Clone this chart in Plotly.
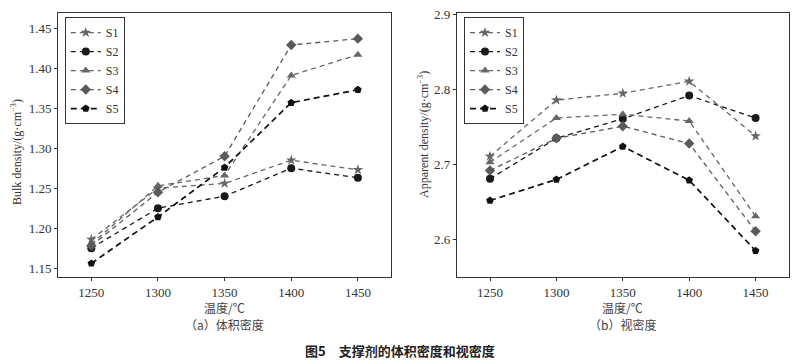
import plotly.graph_objects as go

temps = [1250, 1300, 1350, 1400, 1450]
series = ["S1", "S2", "S3", "S4", "S5"]

bulk_S1 = [1.186, 1.250, 1.256, 1.285, 1.273]
bulk_S2 = [1.175, 1.225, 1.240, 1.275, 1.263]
bulk_S3 = [1.180, 1.253, 1.266, 1.391, 1.417]
bulk_S4 = [1.178, 1.245, 1.290, 1.429, 1.437]
bulk_S5 = [1.156, 1.214, 1.276, 1.357, 1.373]

app_S1 = [2.711, 2.786, 2.795, 2.811, 2.738]
app_S2 = [2.681, 2.735, 2.761, 2.792, 2.762]
app_S3 = [2.703, 2.762, 2.767, 2.758, 2.631]
app_S4 = [2.692, 2.735, 2.751, 2.728, 2.611]
app_S5 = [2.652, 2.680, 2.724, 2.679, 2.585]

bulk = [bulk_S1, bulk_S2, bulk_S3, bulk_S4, bulk_S5]
app = [app_S1, app_S2, app_S3, app_S4, app_S5]

symbols = ["star", "circle", "triangle-up", "diamond", "pentagon"]
colors = ["#666666", "#1a1a1a", "#666666", "#5a5a5a", "#111111"]
dashes = ["5px,4px", "5px,4px", "5px,4px", "5px,4px", "6px,4px"]
widths = [1.3, 1.3, 1.3, 1.3, 1.7]

SERIF = "Liberation Serif, Times New Roman, serif"
CJK = "Noto Sans CJK SC"

fig = go.Figure()
for i, s in enumerate(series):
    fig.add_trace(go.Scatter(
        x=temps, y=bulk[i], name=s, mode="lines+markers",
        line=dict(color=colors[i], dash=dashes[i], width=widths[i]),
        marker=dict(symbol=symbols[i], size=8, color=colors[i]),
        xaxis="x", yaxis="y", legend="legend"))
for i, s in enumerate(series):
    fig.add_trace(go.Scatter(
        x=temps, y=app[i], name=s, mode="lines+markers",
        line=dict(color=colors[i], dash=dashes[i], width=widths[i]),
        marker=dict(symbol=symbols[i], size=8, color=colors[i]),
        xaxis="x2", yaxis="y2", legend="legend2"))

ax_common = dict(showline=True, linecolor="#333", linewidth=1, mirror=True,
                 ticks="outside", ticklen=3, tickcolor="#333",
                 showgrid=False, zeroline=False, automargin=False,
                 tickfont=dict(family=SERIF, size=13, color="#333"))

leg_common = dict(xanchor="left", yanchor="top",
                  bordercolor="#333", borderwidth=1, bgcolor="white",
                  font=dict(family=SERIF, size=12, color="#333"),
                  itemwidth=30, tracegroupgap=0)

fig.update_layout(
    template="none",
    width=800, height=363,
    margin=dict(l=0, r=0, t=0, b=0, pad=0, autoexpand=False),
    paper_bgcolor="white", plot_bgcolor="white",
    xaxis=dict(domain=[0.0725, 0.489], range=[1225, 1475], tickvals=temps,
               anchor="y", **ax_common),
    yaxis=dict(domain=[0.237, 0.964], range=[1.139, 1.469], dtick=0.05,
               tickformat=".2f", anchor="x", **ax_common),
    xaxis2=dict(domain=[0.571, 0.986], range=[1225, 1475], tickvals=temps,
                anchor="y2", **ax_common),
    yaxis2=dict(domain=[0.237, 0.964], range=[2.55, 2.902], dtick=0.1,
                tickformat=".1f", anchor="x2", **ax_common),
    legend=dict(x=0.081, y=0.953, **leg_common),
    legend2=dict(x=0.58, y=0.953, **leg_common),
    showlegend=True,
)


def note(text, x, ypx, size=12, family=CJK, color="#444", angle=0):
    return dict(text=text, x=x, y=1 - ypx / 363, xref="paper", yref="paper",
                xanchor="center", yanchor="middle", textangle=angle,
                showarrow=False, font=dict(family=family, size=size, color=color))


ann = [
    note("Bulk density/(g·cm<sup>−3</sup>)", 16 / 800, 152, family=SERIF, color="#333", angle=-90),
    note("Apparent density/(g·cm<sup>−3</sup>)", 423 / 800, 135, family=SERIF, color="#333", angle=-90),
    note("温度/℃", 0.281, 307),
    note("（a）体积密度", 0.281, 324),
    note("温度/℃", 0.778, 307),
    note("（b）视密度", 0.778, 324),
    note("<b>图5　支撑剂的体积密度和视密度</b>", 0.5, 350, size=13, color="#222"),
]
fig.update_layout(annotations=ann)

fig.write_html("out.html", config={"displayModeBar": False},
               post_script="document.body.style.margin='0';")
